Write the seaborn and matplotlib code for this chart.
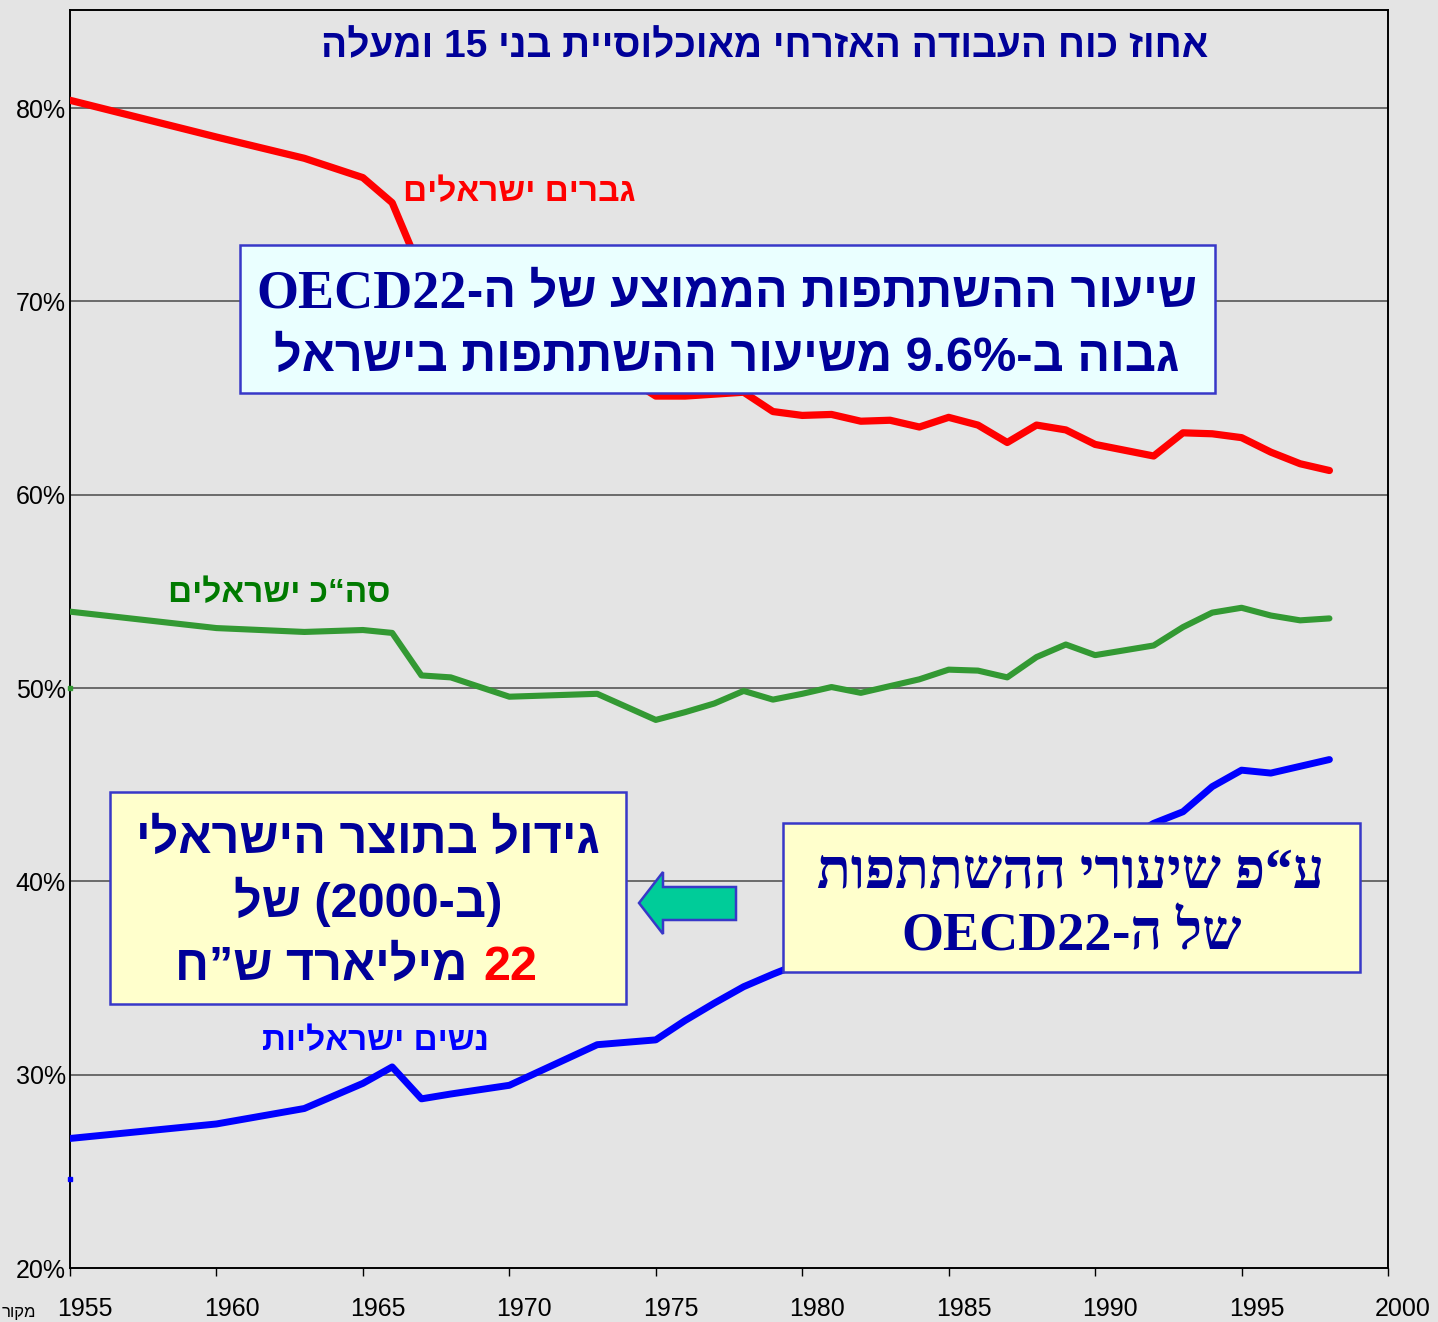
import re
import matplotlib
matplotlib.use("Agg")
import matplotlib.pyplot as plt
import matplotlib.transforms as mtransforms
from matplotlib.patches import Rectangle, Polygon
import seaborn as sns

# data (percent of population aged 15+)
years = [1955, 1960, 1963, 1965, 1966, 1967, 1968, 1970, 1973, 1975,
         1976, 1977, 1978, 1979, 1980, 1981, 1982, 1983, 1984, 1985,
         1986, 1987, 1988, 1989, 1990, 1991, 1992, 1993, 1994, 1995,
         1996, 1997, 1998]
men = [80.4, 78.5, 77.4, 76.4, 75.1, 71.5, 70.0, 68.3, 67.0, 65.1,
       65.1, 65.2, 65.3, 64.3, 64.1, 64.15, 63.8, 63.85, 63.5, 64.0,
       63.6, 62.7, 63.6, 63.35, 62.6, 62.3, 62.0, 63.2, 63.15, 62.95,
       62.2, 61.6, 61.25]
total = [53.95, 53.1, 52.9, 53.0, 52.85, 50.65, 50.55, 49.55, 49.7, 48.35,
         48.75, 49.2, 49.85, 49.4, 49.7, 50.05, 49.75, 50.1, 50.45, 50.95,
         50.9, 50.55, 51.6, 52.25, 51.7, 51.95, 52.2, 53.15, 53.9, 54.15,
         53.75, 53.5, 53.6]
women = [26.7, 27.45, 28.25, 29.55, 30.4, 28.75, 29.0, 29.45, 31.55, 31.8,
         32.8, 33.7, 34.55, 35.2, 35.8, 36.3, 36.8, 37.2, 37.6, 38.1,
         38.6, 39.1, 39.9, 40.7, 41.3, 42.1, 43.0, 43.6, 44.9, 45.75,
         45.6, 45.95, 46.3]
x_ticks = [1955, 1960, 1965, 1970, 1975, 1980, 1985, 1990, 1995, 2000]
y_ticks = [20, 30, 40, 50, 60, 70, 80]

title = "אחוז כוח העבודה האזרחי מאוכלוסיית בני 15 ומעלה"
lbl_men = "גברים ישראלים"
lbl_total = "סה“כ ישראלים"
lbl_women = "נשים ישראליות"

NAVY = "#000099"
SANS = ["Liberation Sans", "DejaVu Sans"]
SERIF = ["Liberation Serif", "DejaVu Serif", "DejaVu Sans"]


def visual(s):
    # logical hebrew -> left-to-right glyph order, keep latin/number runs
    r = s[::-1].translate(str.maketrans("()", ")("))
    return re.sub(r"[A-Za-z0-9.%]+", lambda m: m.group(0)[::-1], r)


sns.set_theme(style="white")
plt.rcParams["font.family"] = SANS

W, H = 1438, 1322
fig = plt.figure(figsize=(W / 100, H / 100), dpi=100)
fig.patch.set_facecolor("#e4e4e4")
ax = fig.add_axes([70 / W, 1 - 1268 / H, (1388 - 70) / W, (1268 - 10) / H])
ax.set_facecolor("#e4e4e4")

for y in y_ticks[1:]:
    ax.axhline(y, color="#4a4a4a", lw=1.1, zorder=1)

sns.lineplot(x=years, y=men, color="#ff0000", lw=5.2, ax=ax, zorder=3)
sns.lineplot(x=years, y=total, color="#339933", lw=4.4, ax=ax, zorder=3)
sns.lineplot(x=years, y=women, color="#0000ff", lw=5.0, ax=ax, zorder=3)
ax.plot([1955], [50], marker="s", ms=3, color="#339933", clip_on=False, zorder=4)
ax.plot([1955], [24.6], marker="s", ms=3, color="#0000ff", clip_on=False, zorder=4)

ax.set_xlim(1955, 2000)
ax.set_ylim(20, 85.07)
ax.set_xticks(x_ticks)
ax.set_yticks(y_ticks)
ax.set_yticklabels([f"{v}%" for v in y_ticks])
ax.tick_params(axis="x", length=6, width=1, color="black", direction="out",
               bottom=True, pad=15, labelsize=18, labelcolor="black")
ax.tick_params(axis="y", length=0, pad=3, labelsize=18, labelcolor="black")
shift = mtransforms.ScaledTranslation(0.15, 0, fig.dpi_scale_trans)
for lab in ax.get_xticklabels():
    lab.set_transform(lab.get_transform() + shift)
for sp in ax.spines.values():
    sp.set_visible(True)
    sp.set_color("black")
    sp.set_linewidth(1.4)
ax.set_xlabel("")
ax.set_ylabel("")

ident = mtransforms.IdentityTransform()
renderer = fig.canvas.get_renderer()


def px_text(x, y, s, **kw):
    # x, y in image pixels measured from the top-left corner
    return fig.text(x, H - y, s, transform=ident, **kw)


def rich_line(xc, y, pieces, gap=0):
    texts = [px_text(0, y, s, ha="left", va="baseline", zorder=20, **p)
             for s, p in pieces]
    widths = [t.get_window_extent(renderer).width for t in texts]
    x = xc - (sum(widths) + gap * (len(texts) - 1)) / 2
    for t, w in zip(texts, widths):
        t.set_position((x, H - y))
        x += w + gap


def box(x0, y0, x1, y1, face):
    fig.patches.append(Rectangle((x0, H - y1), x1 - x0, y1 - y0, transform=ident,
                                 facecolor=face, edgecolor="#3838c8", lw=1.8,
                                 zorder=10))


# title and series labels
px_text(765, 47, visual(title), ha="center", va="center", fontsize=28,
        fontweight="bold", color=NAVY)
px_text(519, 193, visual(lbl_men), ha="center", va="center", fontsize=24,
        fontweight="bold", color="#ff0000")
px_text(279, 594, visual(lbl_total), ha="center", va="center", fontsize=24,
        fontweight="bold", color="#007a00")
px_text(375, 1042, visual(lbl_women), ha="center", va="center", fontsize=24,
        fontweight="bold", color="#0000ff")

hb = dict(fontsize=35, fontweight="bold", color=NAVY, family=SANS)
tb = dict(fontsize=39, fontweight="bold", color=NAVY, family=SERIF)
tbh = dict(fontsize=40, fontweight="bold", color=NAVY, family=SERIF)

# top box
box(240, 245, 1215, 393, "#eaffff")
top1 = visual("שיעור ההשתתפות הממוצע של ה-OECD22")
rich_line(727, 307, [(top1[:6], tb), (top1[6:], hb)])
rich_line(727, 371, [(visual("גבוה ב-9.6% משיעור ההשתתפות בישראל"), hb)])

# left box
box(110, 792, 626, 1004, "#ffffcc")
rich_line(368, 853, [(visual("גידול בתוצר הישראלי"), hb)])
rich_line(368, 917, [(visual("(ב-2000) של"), hb)])
rich_line(356, 980, [(visual("מיליארד ש”ח"), hb),
                     ("22", dict(hb, color="#ff0000"))], gap=16)

# right box
box(783, 823, 1360, 972, "#ffffcc")
rich_line(1071, 887, [(visual("ע“פ שיעורי ההשתתפות"), tbh)])
right2 = visual("של ה-OECD22")
rich_line(1071, 950, [(right2[:6], tb), (right2[6:], tbh)])

# arrow
arrow_px = [(639, 903), (663, 872), (663, 887), (736, 887), (736, 920),
            (663, 920), (663, 934)]
fig.patches.append(Polygon([(x, H - y) for x, y in arrow_px], closed=True,
                           transform=ident, facecolor="#00cc99",
                           edgecolor="#3838c8", lw=1.8, zorder=10))

px_text(36, 1320, visual("מקור"), ha="right", va="bottom", fontsize=12,
        color="black")

fig.savefig("out.png", dpi=100, facecolor=fig.get_facecolor())
